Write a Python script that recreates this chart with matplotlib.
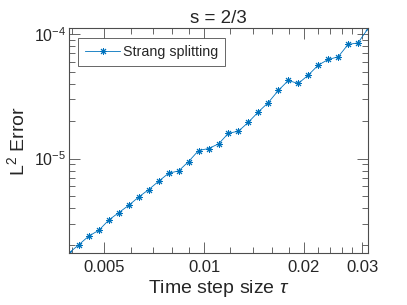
import numpy as np
import matplotlib
matplotlib.use("Agg")
import matplotlib.pyplot as plt
from matplotlib.ticker import FixedLocator, FixedFormatter, LogLocator, NullFormatter

# time step sizes
tau = [0.003906, 0.004187, 0.004487, 0.004809, 0.005154, 0.005524, 0.005921,
       0.006346, 0.006801, 0.007289, 0.007813, 0.008373, 0.008974, 0.009618,
       0.010308, 0.011049, 0.011842, 0.012691, 0.013602, 0.014578, 0.015625,
       0.016746, 0.017948, 0.019236, 0.020617, 0.022097, 0.023683, 0.025383,
       0.027205, 0.029157, 0.031250]

# L2 error of Strang splitting
err = [1.740e-6, 2.033e-6, 2.384e-6, 2.650e-6, 3.207e-6, 3.677e-6, 4.210e-6,
       4.910e-6, 5.630e-6, 6.570e-6, 7.620e-6, 7.950e-6, 9.460e-6, 1.160e-5,
       1.204e-5, 1.311e-5, 1.598e-5, 1.658e-5, 1.959e-5, 2.371e-5, 2.822e-5,
       3.525e-5, 4.242e-5, 4.013e-5, 4.679e-5, 5.630e-5, 6.260e-5, 6.569e-5,
       8.263e-5, 8.511e-5, 1.111e-4]

x_ticks = [0.005, 0.01, 0.02, 0.03]
x_ticklabels = ["0.005", "0.01", "0.02", "0.03"]
x_minor = [0.004, 0.006, 0.007, 0.008, 0.009, 0.012, 0.014, 0.016, 0.018,
           0.022, 0.024, 0.026, 0.028]

plt.rcParams["font.family"] = ["Liberation Sans", "DejaVu Sans"]
plt.rcParams["mathtext.fontset"] = "custom"
plt.rcParams["mathtext.rm"] = "Liberation Sans"
plt.rcParams["mathtext.it"] = "Liberation Sans:italic"

TXT = "#262626"
AX = "#4d4d4d"
BLUE = "#0072BD"

fig = plt.figure(figsize=(4.07, 3.05), dpi=100)
ax = fig.add_axes([0.1695, 0.1705, 0.7347, 0.7361])

# MATLAB-style '*' marker: 8-armed asterisk
ax.loglog(tau, err, "-", marker=(8, 2, 0), color=BLUE, lw=0.6, ms=5, mew=0.7,
          label="Strang splitting")

ax.set_xlim(min(tau), max(tau))
ax.set_ylim(min(err), max(err))

ax.xaxis.set_major_locator(FixedLocator(x_ticks))
ax.xaxis.set_major_formatter(FixedFormatter(x_ticklabels))
ax.xaxis.set_minor_locator(FixedLocator(x_minor))
ax.xaxis.set_minor_formatter(NullFormatter())
ax.yaxis.set_major_locator(LogLocator(base=10))
ax.yaxis.set_minor_locator(LogLocator(base=10, subs=np.arange(2, 10)))
ax.yaxis.set_minor_formatter(NullFormatter())

ax.tick_params(which="both", direction="in", top=True, right=True,
               color=AX, width=0.6, labelcolor=TXT)
ax.tick_params(which="major", length=8)
ax.tick_params(which="minor", length=4)
ax.tick_params(axis="x", which="major", labelsize=12, pad=5)
ax.tick_params(axis="y", which="major", labelsize=11.5, pad=2)
for s in ax.spines.values():
    s.set_color(AX)
    s.set_linewidth(0.8)

ax.set_title("s = 2/3", fontsize=13.5, color=TXT, pad=4)
ax.set_xlabel(r"Time step size $\tau$", fontsize=14, color=TXT, labelpad=2)
ax.set_ylabel(r"L$^2$ Error", fontsize=14, color=TXT, labelpad=4)

leg = ax.legend(loc="upper left", fontsize=10.3, fancybox=False, framealpha=1,
                edgecolor=AX, borderaxespad=0.65, handlelength=2.4,
                handletextpad=0.2, borderpad=0.5)
leg.get_frame().set_linewidth(0.6)
for t in leg.get_texts():
    t.set_color(TXT)

fig.savefig("out.png", dpi=100)
